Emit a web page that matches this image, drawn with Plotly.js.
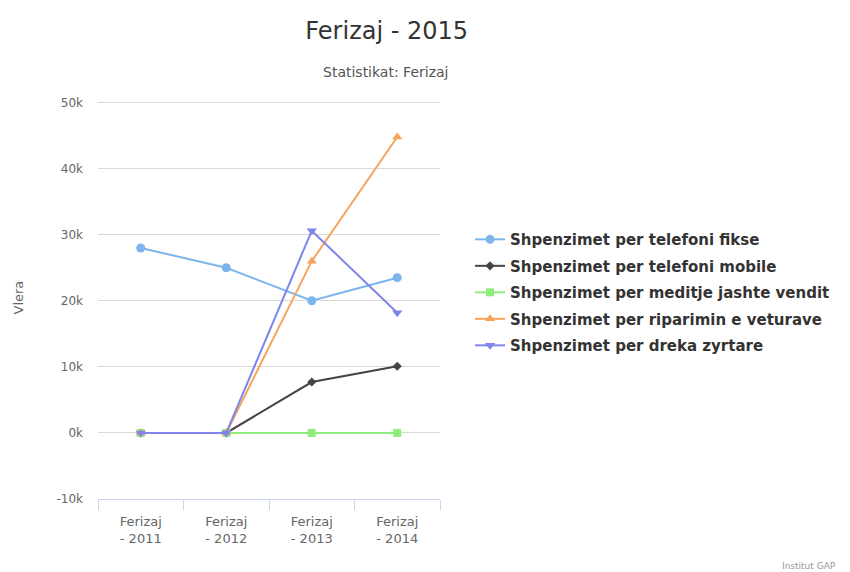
<!DOCTYPE html>
<html>
<head>
<meta charset="utf-8">
<script src="https://cdn.plot.ly/plotly-3.0.1.min.js"></script>
<style>
  html, body { margin: 0; padding: 0; background: #fff; }
  #chart { width: 850px; height: 572px; }
</style>
</head>
<body>
<div id="chart"></div>
<script>
// Categories (years)
const categories = ['Ferizaj - 2011', 'Ferizaj - 2012', 'Ferizaj - 2013', 'Ferizaj - 2014'];
const categoryLabels = ['Ferizaj<br>- 2011', 'Ferizaj<br>- 2012', 'Ferizaj<br>- 2013', 'Ferizaj<br>- 2014'];

// Series values
const telefoniFikse = [28000, 25000, 20000, 23500];
const telefoniMobile = [0, 0, 7700, 10100];
const meditjeJashte = [0, 0, 0, 0];
const ripariminVeturave = [0, 0, 26000, 44800];
const drekaZyrtare = [0, 0, 30600, 18200];

// Y ticks
const yTicks = [-10000, 0, 10000, 20000, 30000, 40000, 50000];
const yTickLabels = ['-10k', '0k', '10k', '20k', '30k', '40k', '50k'];

const fontFam = '"DejaVu Sans", sans-serif';

function series(name, values, color, symbol, size) {
    return {
        x: categories,
        y: values,
        name: name,
        legendgroup: name,
        type: 'scatter',
        mode: 'lines+markers',
        line: { color: color, width: 2 },
        marker: { color: color, symbol: symbol, size: size }
    };
}

const traces = [
    series('Shpenzimet per telefoni fikse', telefoniFikse, '#7cb5ec', 'circle', 9),
    series('Shpenzimet per telefoni mobile', telefoniMobile, '#434348', 'diamond', 7),
    series('Shpenzimet per meditje jashte vendit', meditjeJashte, '#90ed7d', 'square', 8),
    series('Shpenzimet per riparimin e veturave', ripariminVeturave, '#f7a35c', 'triangle-up', 9),
    series('Shpenzimet per dreka zyrtare', drekaZyrtare, '#8085e9', 'triangle-down', 9)
];

const layout = {
    width: 850,
    height: 572,
    font: { family: fontFam, color: '#666666' },
    paper_bgcolor: '#ffffff',
    plot_bgcolor: '#ffffff',
    margin: { l: 98, r: 410, t: 96, b: 73 },
    title: {
        text: 'Ferizaj - 2015',
        font: { family: fontFam, size: 24, color: '#333333' },
        x: 0.455, xanchor: 'center',
        y: 0.946, yanchor: 'middle'
    },
    xaxis: {
        type: 'category',
        tickvals: categories,
        ticktext: categoryLabels,
        range: [-0.5, 3.5],
        tickson: 'boundaries',
        ticks: 'outside',
        ticklen: 10,
        tickcolor: '#ccd6eb',
        showline: true,
        linecolor: '#ccd6eb',
        showgrid: false,
        ticklabelstandoff: 10,
        tickfont: { size: 13, color: '#666666' }
    },
    yaxis: {
        range: [-10000, 51000],
        tickvals: yTicks,
        ticktext: yTickLabels,
        showgrid: true,
        gridcolor: '#d9d9d9',
        zeroline: false,
        ticks: '',
        ticklabelstandoff: 14,
        tickfont: { size: 12, color: '#666666' }
    },
    showlegend: true,
    legend: {
        xref: 'container', yref: 'container',
        x: 0.553, xanchor: 'left',
        y: 0.61, yanchor: 'top',
        tracegroupgap: 4,
        font: { family: fontFam, size: 15, color: '#333333', weight: 'bold' },
        bgcolor: 'rgba(0,0,0,0)'
    },
    annotations: [
        { text: 'Statistikat: Ferizaj', xref: 'paper', yref: 'paper', x: 0.84, y: 1.0,
          xanchor: 'center', yanchor: 'bottom', yshift: 14, showarrow: false,
          font: { family: fontFam, size: 14, color: '#555555' } },
        { text: 'Vlera', xref: 'paper', yref: 'paper', x: 0, xshift: -80, y: 0.5,
          textangle: -90, showarrow: false, xanchor: 'center', yanchor: 'middle',
          font: { family: fontFam, size: 13, color: '#666666' } },
        { text: 'Institut GAP', xref: 'paper', yref: 'paper', x: 1, xshift: 398, y: 0, yshift: -67,
          xanchor: 'right', yanchor: 'middle', showarrow: false,
          font: { family: fontFam, size: 9, color: '#999999' } }
    ]
};

Plotly.newPlot('chart', traces, layout, { displayModeBar: false });
</script>
</body>
</html>
